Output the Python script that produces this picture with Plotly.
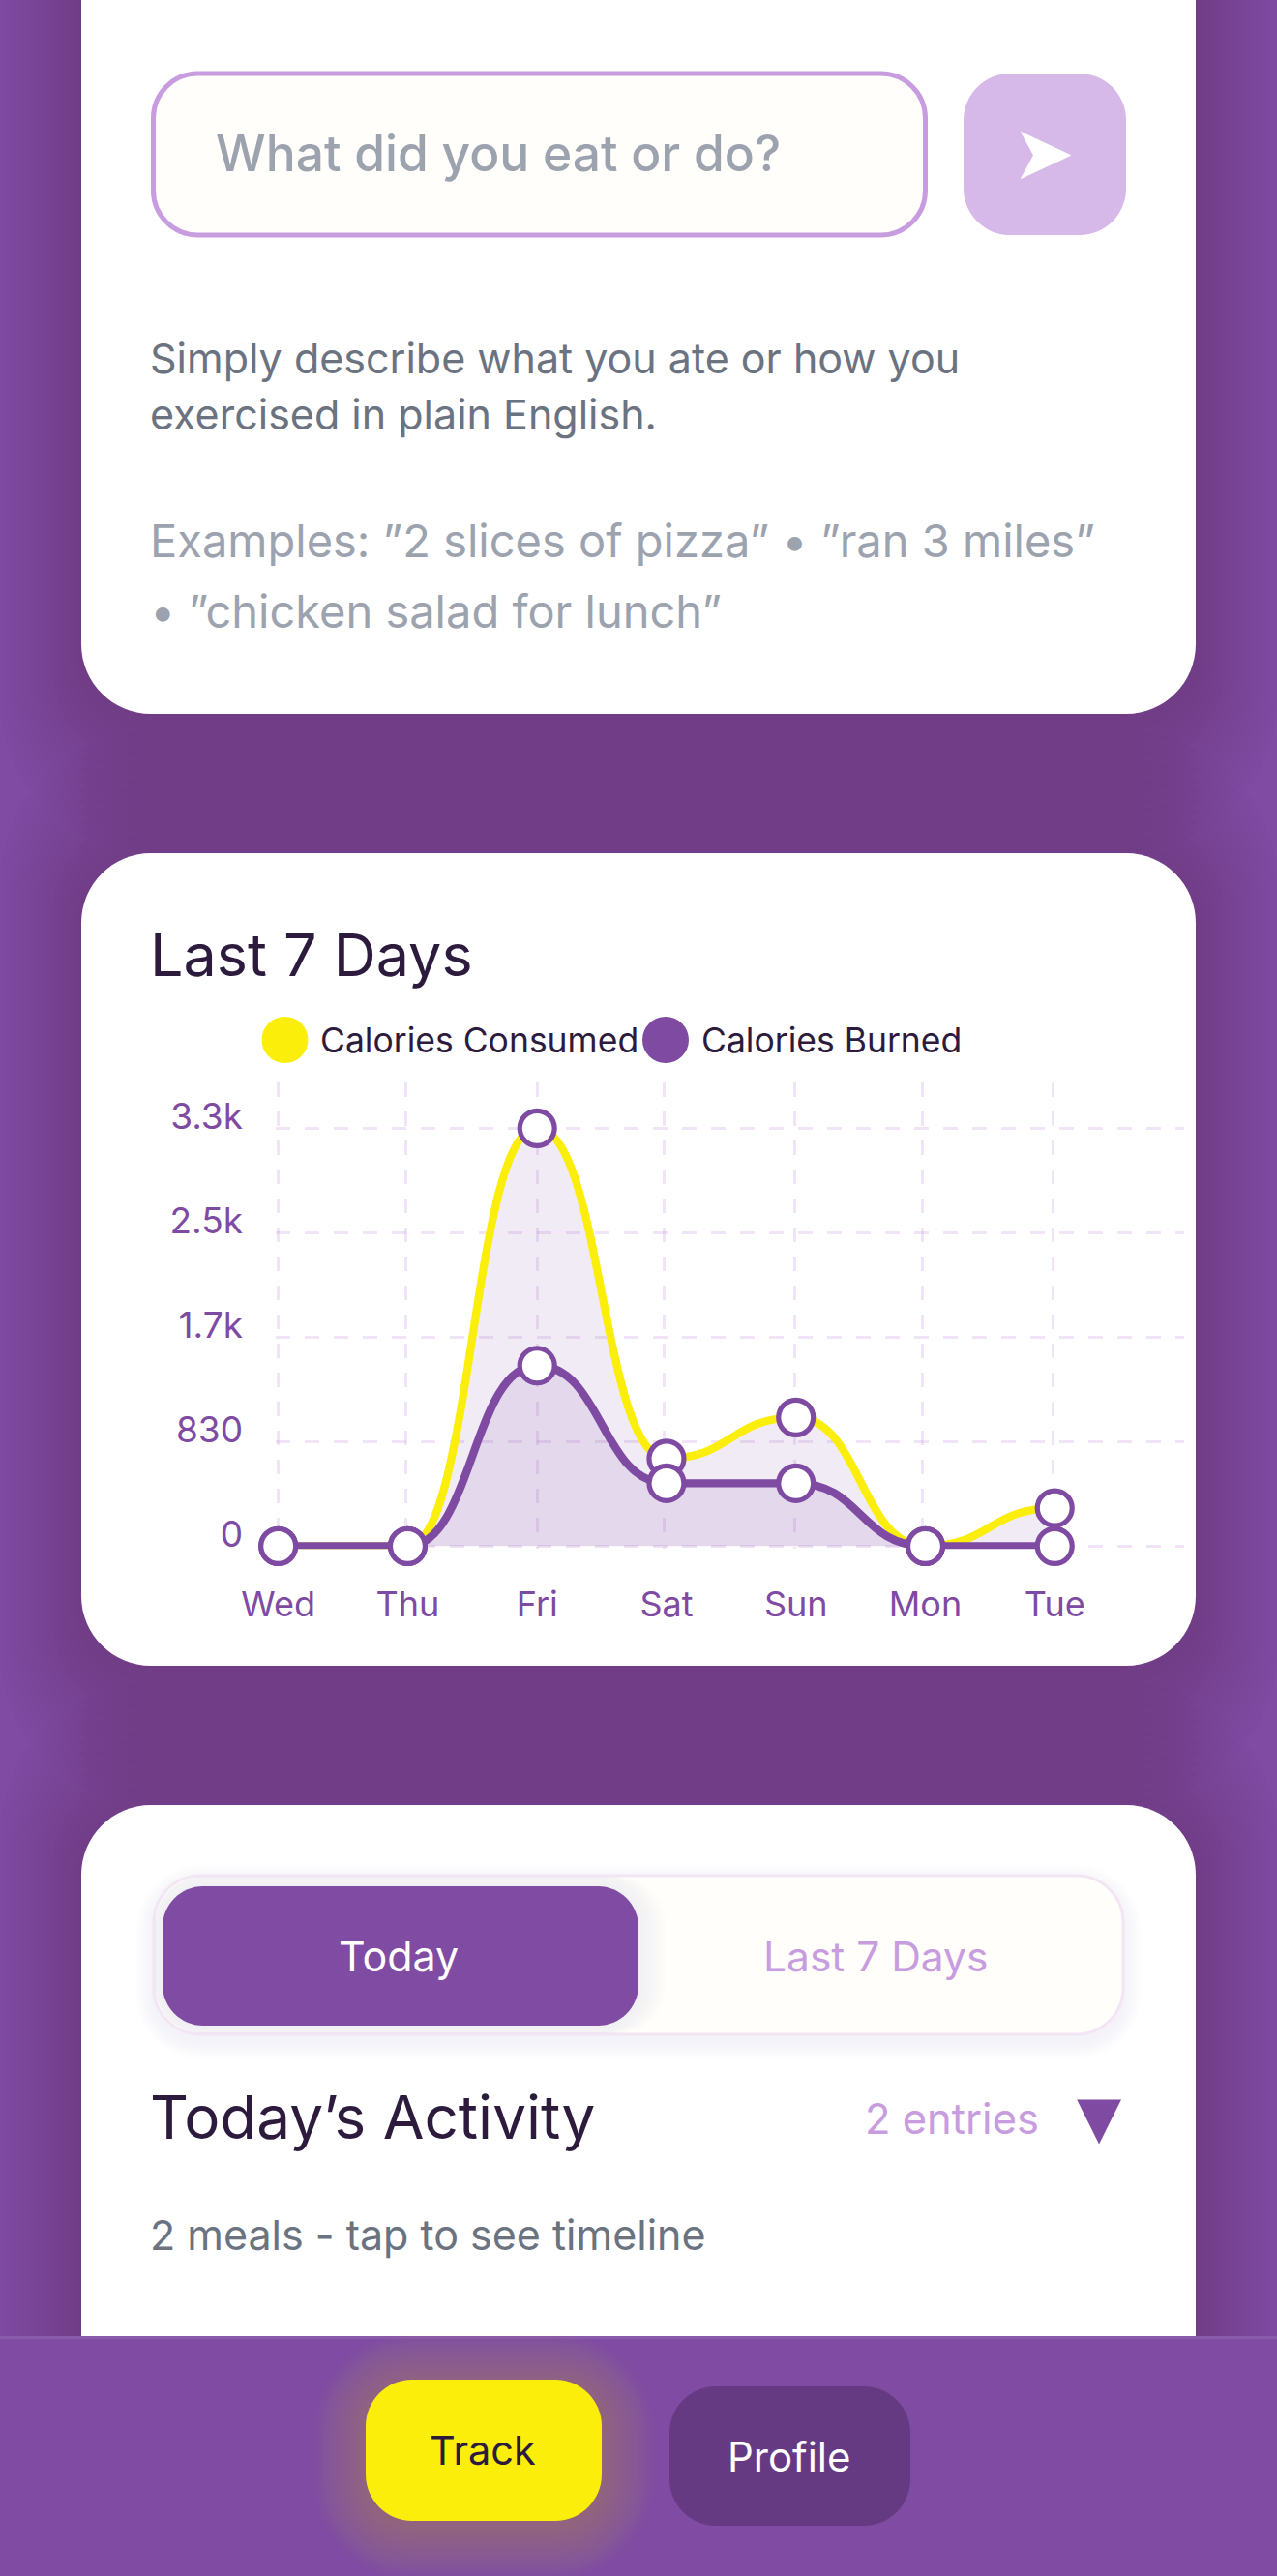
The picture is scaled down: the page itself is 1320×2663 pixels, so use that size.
import plotly.graph_objects as go

W = 1320
H = 2663

# chart data
days = ["Wed", "Thu", "Fri", "Sat", "Sun", "Mon", "Tue"]
consumed = [0, 0, 3320, 696, 1022, 0, 302]
burned = [0, 0, 1434, 500, 500, 0, 0]
y_ticks = [0, 830, 1660, 2490, 3320]
y_tick_labels = ["0", "830", "1.7k", "2.5k", "3.3k"]
# the vertical grid sits a hair left of the points
x_grid = [0.001, 0.985, 2.001, 2.985, 3.99, 4.98, 5.99]

PURPLE = "#7E4AA2"
YELLOW = "#FBEE0B"
INK = "#2D1B3D"
LILAC = "#C79DE0"
GREY = "#6B7280"
LIGHT_GREY = "#9CA3AF"
CREAM = "#FFFEFA"
FONT = "Inter"


def px(x):
    return x / W


def py(y):
    return 1 - y / H


def round_rect(x0, y0, x1, y1, r, fill, line=None, width=0):
    # rounded box, page pixels -> paper coordinates
    k = r * 0.45
    pts = [
        f"M{px(x0 + r)},{py(y0)}",
        f"L{px(x1 - r)},{py(y0)}",
        f"C{px(x1 - k)},{py(y0)} {px(x1)},{py(y0 + k)} {px(x1)},{py(y0 + r)}",
        f"L{px(x1)},{py(y1 - r)}",
        f"C{px(x1)},{py(y1 - k)} {px(x1 - k)},{py(y1)} {px(x1 - r)},{py(y1)}",
        f"L{px(x0 + r)},{py(y1)}",
        f"C{px(x0 + k)},{py(y1)} {px(x0)},{py(y1 - k)} {px(x0)},{py(y1 - r)}",
        f"L{px(x0)},{py(y0 + r)}",
        f"C{px(x0)},{py(y0 + k)} {px(x0 + k)},{py(y0)} {px(x0 + r)},{py(y0)}",
        "Z",
    ]
    return dict(
        type="path",
        path=" ".join(pts),
        xref="paper",
        yref="paper",
        fillcolor=fill,
        line=dict(color=line or "rgba(0,0,0,0)", width=width),
        layer="below",
    )


def flat_rect(x0, y0, x1, y1, fill):
    return dict(
        type="rect",
        xref="paper",
        yref="paper",
        x0=px(x0),
        y0=py(y0),
        x1=px(x1),
        y1=py(y1),
        fillcolor=fill,
        line=dict(width=0),
        layer="below",
    )


def dot(cx, cy, r, fill):
    return dict(
        type="circle",
        xref="paper",
        yref="paper",
        x0=px(cx - r),
        y0=py(cy - r),
        x1=px(cx + r),
        y1=py(cy + r),
        fillcolor=fill,
        line=dict(width=0),
        layer="below",
    )


def label(text, x, y, size, color, anchor="left", weight=400, family=FONT):
    return dict(
        text=text,
        x=px(x),
        y=py(y),
        xref="paper",
        yref="paper",
        xanchor=anchor,
        yanchor="middle",
        showarrow=False,
        borderpad=0,
        font=dict(family=family, size=size, color=color, weight=weight),
    )


def card_shadow(x0, y0, x1, y1):
    # wide soft shadow, stretched vertically so the gaps between cards go dark
    rings = []
    for g in range(84, 0, -6):
        rings.append(
            round_rect(
                x0 - g,
                y0 - 1.6 * g + 8,
                x1 + g,
                y1 + 1.6 * g + 8,
                72 + g,
                "rgba(0,0,0,0.007)",
            )
        )
    return rings


def curve_path(values, closed=False):
    # same cubic the app draws: control points at mid x, on the data axes
    d = f"M0,{values[0]}"
    for i in range(1, len(values)):
        mid = i - 0.5
        d += f" C{mid},{values[i - 1]} {mid},{values[i]} {i},{values[i]}"
    if closed:
        d += f" L{len(values) - 1},0 L0,0 Z"
    return d


def series_shapes(values, color):
    area = dict(
        type="path",
        path=curve_path(values, closed=True),
        xref="x",
        yref="y",
        fillcolor="rgba(126,74,162,0.11)",
        line=dict(width=0),
        layer="between",
    )
    stroke = dict(
        type="path",
        path=curve_path(values),
        xref="x",
        yref="y",
        line=dict(color=color, width=8.3),
        layer="between",
    )
    return [area, stroke]


shapes = []
shapes += card_shadow(84, -80, 1236, 738)
shapes += card_shadow(84, 882, 1236, 1722)
shapes += card_shadow(84, 1866, 1236, 2560)
shapes += [
    # input card
    round_rect(84, -80, 1236, 738, 72, "#FFFFFF"),
    round_rect(158.5, 76, 956.5, 243, 46, CREAM, LILAC, 5),
    round_rect(996, 76, 1164, 243, 48, "#D6B9E8"),
    # chart card
    round_rect(84, 882, 1236, 1722, 72, "#FFFFFF"),
    dot(294.5, 1075, 24, YELLOW),
    dot(688, 1075, 24, PURPLE),
    # activity card
    round_rect(84, 1866, 1236, 2560, 72, "#FFFFFF"),
]

# segmented control, with its shadows
for g in range(18, 0, -3):
    shapes.append(
        round_rect(159 - g, 1939 - g + 7, 1161 + g, 2103 + g + 7, 48 + g, "rgba(60,30,80,0.007)")
    )
shapes.append(round_rect(159, 1939, 1161, 2103, 48, CREAM, "#F3E6F4", 3))
for g in range(28, 0, -4):
    shapes.append(
        round_rect(
            168 - min(g, 8),
            1950 - min(g, 10),
            660 + g,
            2094 + min(g, 8),
            42 + min(g, 8),
            "rgba(126,74,162,0.011)",
        )
    )
shapes += [
    round_rect(168, 1950, 660, 2094, 42, "#804BA2"),
    # bottom nav
    flat_rect(0, 2416, W, H, "#7F4BA3"),
    flat_rect(0, 2415, W, 2418, "#8A5AAB"),
]

# glow around the Track button
for g in range(54, 0, -3):
    shapes.append(
        round_rect(378 - g, 2460 - g + 6, 622 + g, 2606 + g + 6, 48 + g, "rgba(251,238,11,0.012)")
    )
shapes += [
    round_rect(378, 2460, 622, 2606, 48, YELLOW),
    round_rect(692, 2467, 941, 2611, 48, "#653A82"),
]

shapes += series_shapes(consumed, YELLOW)
shapes += series_shapes(burned, PURPLE)

annotations = [
    label("What did you eat or do?", 222, 158, 51.5, LIGHT_GREY, weight=500),
    label("➤", 1078, 158, 78, "#FFFFFF", anchor="center", family="DejaVu Sans"),
    label("Simply describe what you ate or how you", 154, 370, 43, GREY),
    label("exercised in plain English.", 154, 428, 43, GREY),
    label("Examples: ”2 slices of pizza” • ”ran 3 miles”", 154, 559, 47, LIGHT_GREY),
    label("• ”chicken salad for lunch”", 154, 631, 47, LIGHT_GREY),
    label("Last 7 Days", 154, 987, 61, INK),
    label("Calories Consumed", 330, 1075, 35.5, INK),
    label("Calories Burned", 724, 1075, 35.5, INK),
    label("Today", 412, 2022, 43, "#FFFFFF", anchor="center"),
    label("Last 7 Days", 905, 2022, 42.5, LILAC, anchor="center"),
    label("Today’s Activity", 154, 2188, 62, INK),
    label("2 entries", 893, 2190, 43.5, LILAC),
    label("▼", 1136, 2188, 60, PURPLE, anchor="center", family="DejaVu Sans"),
    label("2 meals - tap to see timeline", 154, 2310, 43, GREY),
    label("Track", 499, 2533, 41.5, INK, anchor="center"),
    label("Profile", 816, 2539, 42, "#FFFFFF", anchor="center"),
]

fig = go.Figure()
for name, values in [("Calories Consumed", consumed), ("Calories Burned", burned)]:
    fig.add_trace(
        go.Scatter(
            x=list(range(len(days))),
            y=values,
            name=name,
            mode="markers",
            cliponaxis=False,
            marker=dict(
                size=36,
                color="#FFFFFF",
                line=dict(color=PURPLE, width=5.2),
            ),
        )
    )

grid_color = "rgba(190,130,215,0.22)"
fig.update_layout(
    width=W,
    height=H,
    margin=dict(l=0, r=0, t=0, b=0, autoexpand=False),
    paper_bgcolor="#7F4BA3",
    plot_bgcolor="rgba(0,0,0,0)",
    showlegend=False,
    shapes=shapes,
    annotations=annotations,
)
# ranges start a little below the first tick, else plotly drops that gridline
fig.update_xaxes(
    domain=[px(285), px(1224)],
    range=[-0.02, 7],
    tickmode="array",
    tickvals=list(range(len(days))),
    ticktext=days,
    tickfont=dict(family=FONT, size=36, color=PURPLE),
    ticklabelstandoff=33,
    showgrid=False,
    zeroline=False,
    showline=False,
    ticks="",
    minor=dict(
        tickmode="array",
        tickvals=x_grid,
        ticks="",
        showgrid=True,
        gridcolor=grid_color,
        gridwidth=3,
        griddash="15px,15px",
    ),
)
fig.update_yaxes(
    domain=[py(1601.2), py(1118.6)],
    range=[-22, 3687],
    tickmode="array",
    tickvals=y_ticks,
    ticktext=y_tick_labels,
    tickfont=dict(family=FONT, size=37, color=PURPLE),
    ticklabelshift=-12,
    ticklabelstandoff=33,
    gridcolor=grid_color,
    gridwidth=3,
    griddash="15px,15px",
    zeroline=False,
    showline=False,
    ticks="",
)

fig.write_html(
    "out.html",
    config={"displayModeBar": False},
    post_script="document.body.style.margin='0';",
)
